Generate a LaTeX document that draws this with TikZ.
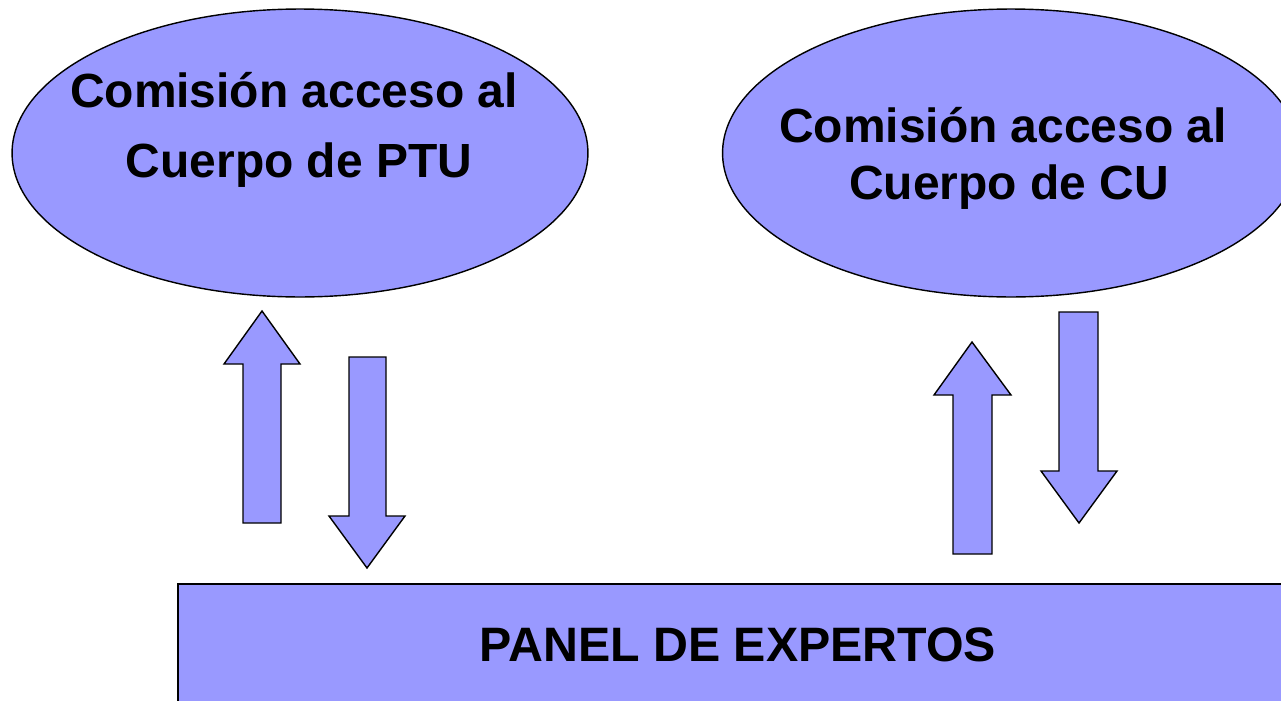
\documentclass[tikz,border=0pt]{standalone}
\usepackage{fontspec}
\setmainfont{Liberation Sans}
\usetikzlibrary{shapes.geometric}
\definecolor{lila}{HTML}{9999FF}

\begin{document}
\begin{tikzpicture}[x=0.02cm, y=-0.02cm,
  comision/.style={draw=black, line width=0.8pt, fill=lila, ellipse, inner sep=0pt, },
  panel/.style={draw=black, line width=0.8pt, fill=lila, rectangle, inner sep=0pt,
    font=\fontsize{27.5}{32}\selectfont\bfseries, },
  rotulo/.style={anchor=base, inner sep=0pt, font=\fontsize{27.3}{32}\selectfont\bfseries, },
  flecha/.style={draw=black, line width=0.8pt, fill=lila, line join=miter, }]
\useasboundingbox (0,0) rectangle (1281,700);
\clip (0,0) rectangle (1281,700);
\node[comision, minimum width=11.52cm, minimum height=5.76cm] (ptu) at (300,153) {};
\node[comision, minimum width=11.54cm, minimum height=5.76cm] (cu) at (1011,153) {};
\node[rotulo] (ptuA) at (294,107) {Comisión acceso al};
\node[rotulo] (ptuB) at (299,177) {Cuerpo de PTU};
\node[rotulo] (cuA) at (1003,142) {Comisión acceso al};
\node[rotulo] (cuB) at (1009,199) {Cuerpo de CU};
\node[panel, minimum width=22.4cm, minimum height=2.44cm] (expertos) at (738,645) {PANEL DE EXPERTOS};
\draw[flecha] (243,523) -- (243,364) -- (224,364) -- (262,311) -- (300,364) -- (281,364) -- (281,523) -- cycle;
\draw[flecha] (349,357) -- (349,516) -- (329,516) -- (367,568) -- (405,516) -- (386,516) -- (386,357) -- cycle;
\draw[flecha] (953,554) -- (953,395) -- (934,395) -- (972,342) -- (1011,395) -- (992,395) -- (992,554) -- cycle;
\draw[flecha] (1059,312) -- (1059,471) -- (1041,471) -- (1079,523) -- (1117,471) -- (1098,471) -- (1098,312) -- cycle;
\end{tikzpicture}
\end{document}
